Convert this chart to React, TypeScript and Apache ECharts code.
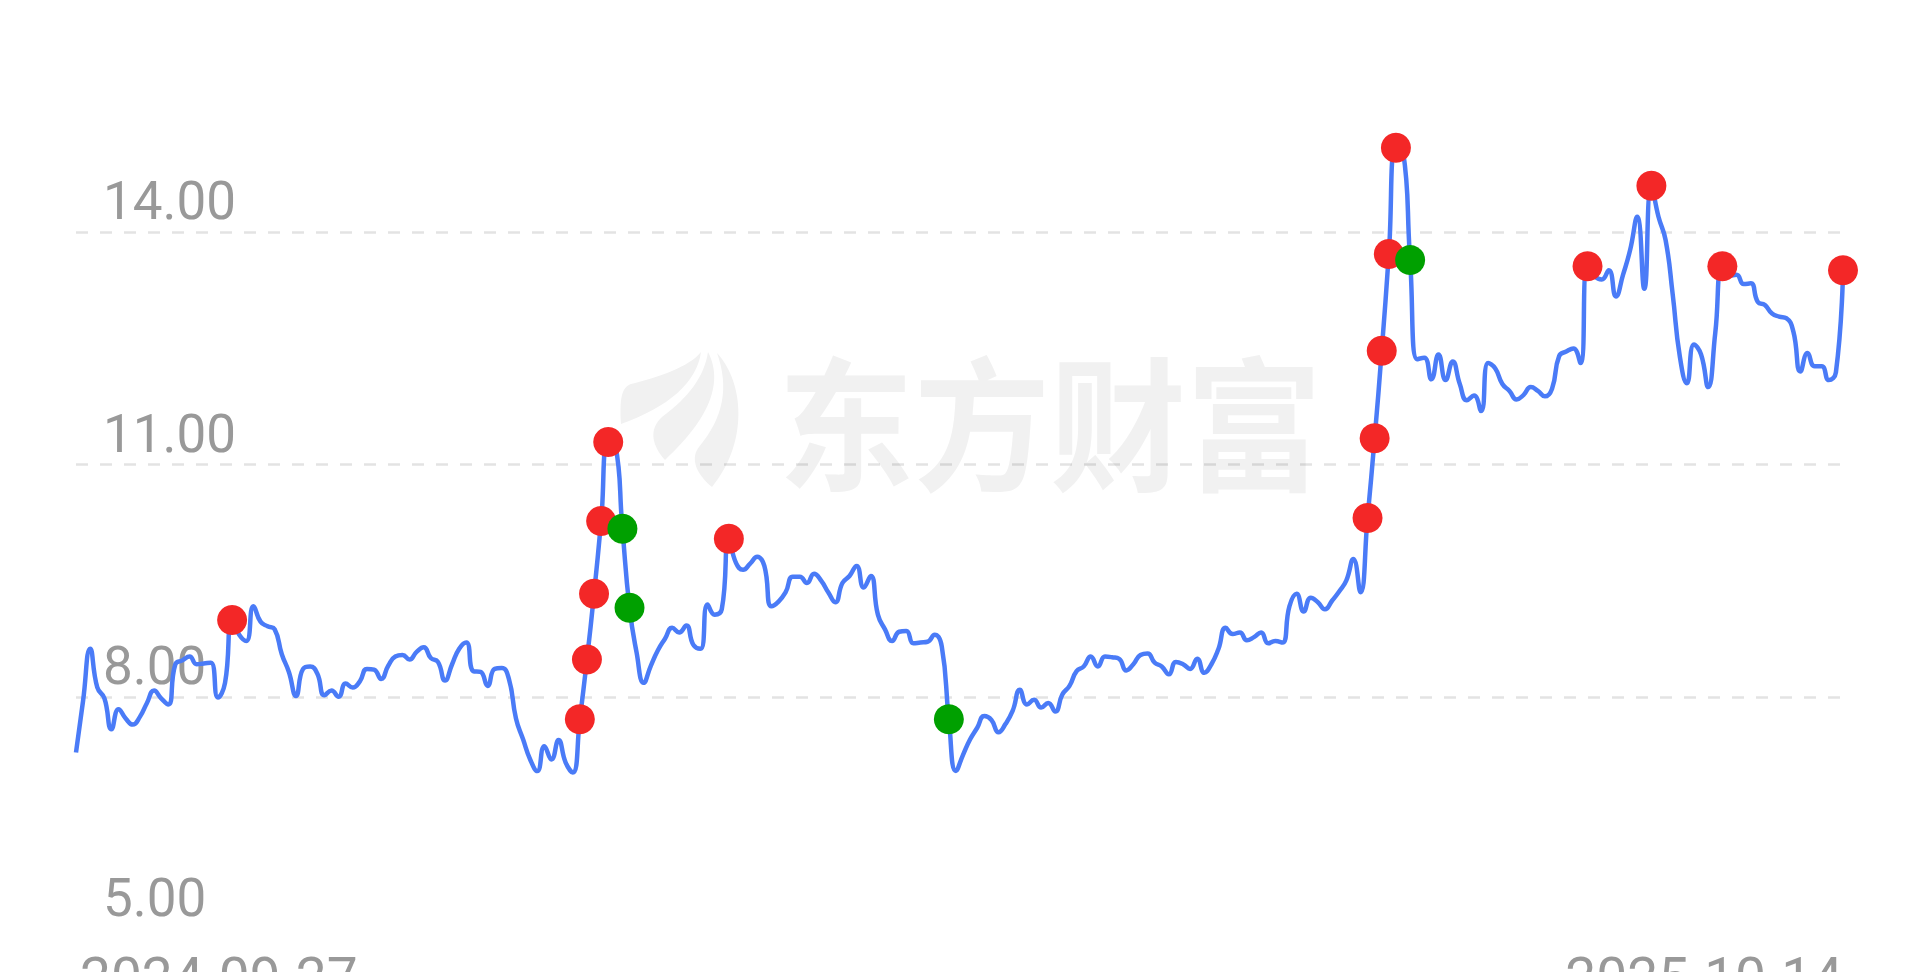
import React, { useEffect, useRef } from "react";
import * as echarts from "echarts";

// x-axis tick labels (first and last trading day)
const tickLabels = ["2024-09-27", "2025-10-14"];

// daily closing prices, 250 trading days
const prices = [
  7.28, 7.95, 8.62, 8.12, 7.98, 7.58, 7.84, 7.72, 7.64, 7.74,
  7.92, 8.08, 7.98, 7.90, 8.42, 8.47, 8.52, 8.42, 8.43, 8.44,
  7.99, 8.18, 8.99, 8.80, 8.72, 9.17, 8.97, 8.91, 8.87, 8.55,
  8.32, 8.01, 8.36, 8.39, 8.30, 8.02, 8.08, 8.00, 8.17, 8.12,
  8.20, 8.36, 8.35, 8.23, 8.40, 8.52, 8.54, 8.48, 8.58, 8.64,
  8.50, 8.45, 8.21, 8.42, 8.62, 8.70, 8.33, 8.32, 8.14, 8.36,
  8.37, 8.23, 7.72, 7.45, 7.19, 7.04, 7.36, 7.19, 7.44, 7.15,
  7.02, 7.71, 8.48, 9.33, 10.27, 11.29, 11.25, 10.17, 9.15, 8.57,
  8.18, 8.40, 8.60, 8.75, 8.89, 8.83, 8.92, 8.67, 8.62, 9.19,
  9.06, 9.13, 10.04, 9.73, 9.64, 9.72, 9.81, 9.69, 9.17, 9.23,
  9.35, 9.55, 9.55, 9.47, 9.59, 9.50, 9.35, 9.22, 9.47, 9.56,
  9.69, 9.41, 9.56, 9.06, 8.87, 8.72, 8.84, 8.85, 8.69, 8.70,
  8.71, 8.80, 8.65, 7.71, 7.04, 7.25, 7.45, 7.60, 7.75, 7.70,
  7.54, 7.65, 7.82, 8.09, 7.90, 7.96, 7.86, 7.92, 7.81, 8.03,
  8.14, 8.33, 8.39, 8.52, 8.39, 8.52, 8.51, 8.49, 8.34, 8.42,
  8.54, 8.56, 8.44, 8.39, 8.29, 8.45, 8.42, 8.36, 8.49, 8.31,
  8.42, 8.62, 8.89, 8.81, 8.83, 8.73, 8.77, 8.83, 8.69, 8.72,
  8.70, 9.17, 9.33, 9.10, 9.28, 9.22, 9.13, 9.24, 9.36, 9.50,
  9.78, 9.35, 10.31, 11.34, 12.47, 13.72, 15.09, 15.05, 13.64, 12.36,
  12.38, 12.10, 12.42, 12.09, 12.33, 12.04, 11.83, 11.89, 11.69, 12.31,
  12.24, 12.04, 11.95, 11.84, 11.90, 12.00, 11.95, 11.88, 11.98, 12.40,
  12.46, 12.50, 12.31, 13.56, 13.43, 13.39, 13.51, 13.17, 13.45, 13.77,
  14.20, 13.27, 14.60, 14.20, 13.90, 13.20, 12.40, 12.05, 12.55, 12.42,
  12.00, 12.70, 13.56, 13.44, 13.45, 13.33, 13.34, 13.10, 13.06, 12.95,
  12.91, 12.89, 12.72, 12.20, 12.44, 12.27, 12.27, 12.09, 12.19, 13.51,
];

// indices of the red (buy) and green (sell) markers
const buyIdx = [22, 71, 72, 73, 74, 75, 92, 182, 183, 184, 185, 186, 213, 222, 232, 249];
const sellIdx = [77, 78, 123, 188];

// y axis
const yMin = 5;
const yMax = 17;
const yInterval = 3;

const categories = prices.map((_, i) => "d" + i);

const LOGO_D =
  "M2,72 C0,40 5,35 12,32 C40,25 70,15 82,0 C78,30 50,55 2,72 Z " +
  "M89,0 C102,25 98,60 46,108 C30,90 32,75 43,65 C70,45 85,25 89,0 Z " +
  "M98,1 C125,30 130,90 93,135 C75,120 72,105 80,95 C105,65 110,35 98,1 Z";

export default function App() {
  const ref = useRef<HTMLDivElement>(null);
  useEffect(() => {
    document.body.style.margin = "0";
    document.body.style.overflow = "hidden";
    echarts.graphic.registerShape("logoLeaf", echarts.graphic.extendPath(LOGO_D, {}));
    const chart = echarts.init(ref.current!, null, { renderer: "svg" });
    const last = prices.length - 1;
    const font = "Roboto";
    chart.setOption({
      animation: false,
      backgroundColor: "#ffffff",
      grid: { left: 76, right: 77, top: 0, bottom: 43, containLabel: false, outerBoundsMode: "none" },
      graphic: {
        elements: [
          {
            type: "logoLeaf",
            x: 619,
            y: 352,
            z: -1,
            silent: true,
            style: { fill: "#f1f1f1" },
          },
          {
            type: "text",
            x: 1050,
            y: 417,
            z: -1,
            scaleY: 1.06,
            silent: true,
            style: {
              text: "东方财富",
              fontSize: 136,
              fontWeight: "bold",
              fontFamily: "Noto Sans CJK SC",
              fill: "#f1f1f1",
              align: "center",
              verticalAlign: "middle",
            },
          },
        ],
      },
      xAxis: {
        type: "category",
        data: categories,
        boundaryGap: false,
        axisLine: { show: false },
        axisTick: { show: false },
        splitLine: { show: false },
        axisLabel: {
          interval: (i: number) => i === 0 || i === last,
          formatter: (_v: string, i: number) => (i === 0 ? tickLabels[0] : tickLabels[1]),
          alignMinLabel: "left",
          alignMaxLabel: "right",
          margin: 21,
          fontSize: 55,
          lineHeight: 55,
          padding: [0, 0, 0, 4],
          color: "#999999",
          fontFamily: font,
        },
      },
      yAxis: {
        type: "value",
        min: yMin,
        max: yMax,
        interval: yInterval,
        axisLine: { show: false },
        axisTick: { show: false },
        axisLabel: {
          inside: true,
          margin: 27,
          fontSize: 53,
          lineHeight: 62,
          verticalAlign: "bottom",
          color: "#999999",
          fontFamily: font,
          showMaxLabel: false,
          formatter: (v: number) => v.toFixed(2),
        },
        splitLine: {
          show: true,
          showMinLine: false,
          showMaxLine: false,
          lineStyle: { color: "rgba(0,0,0,0.11)", width: 2.5, type: [12, 12] },
        },
      },
      series: [
        {
          type: "line",
          data: prices,
          smooth: true,
          showSymbol: false,
          symbol: "none",
          lineStyle: { color: "#4a7bf7", width: 4.5 },
          itemStyle: { color: "#4a7bf7" },
          z: 2,
          silent: true,
        },
        {
          type: "scatter",
          data: buyIdx.map((i) => [i, prices[i]]),
          symbolSize: 30,
          itemStyle: { color: "#f32727", opacity: 1 },
          z: 3,
          silent: true,
        },
        {
          type: "scatter",
          data: sellIdx.map((i) => [i, prices[i]]),
          symbolSize: 30,
          itemStyle: { color: "#00a000", opacity: 1 },
          z: 4,
          silent: true,
        },
      ],
    });
    return () => chart.dispose();
  }, []);
  return <div ref={ref} style={{ width: 1920, height: 972 }} />;
}
